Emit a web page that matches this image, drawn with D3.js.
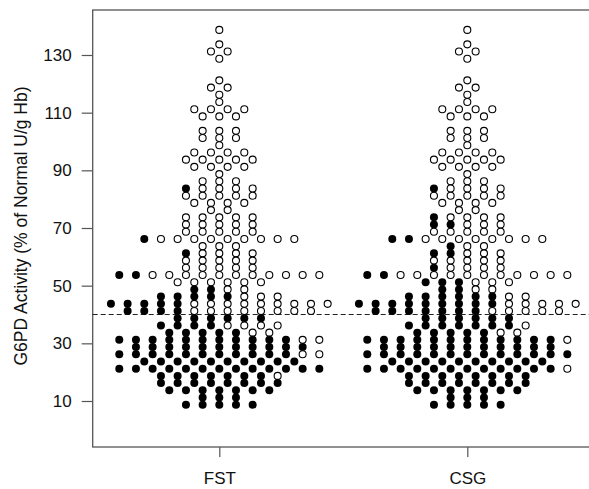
<!DOCTYPE html>
<html>
<head>
<meta charset="utf-8">
<script src="https://cdn.jsdelivr.net/npm/d3@7/dist/d3.min.js"></script>
<style>
  html, body { margin: 0; padding: 0; background: #fff; }
  svg { display: block; }
  text { font-family: "Liberation Sans", Arial, Helvetica, sans-serif; fill: #111; }
</style>
</head>
<body>
<svg id="chart" width="589" height="489"></svg>
<script>
// ---------------- data ----------------
const groups = ["FST", "CSG"];
const yTicks = [10, 30, 50, 70, 90, 110, 130];
const threshold = 40;

// G6PD activity level of each beeswarm row (% of normal), top to bottom
const rowValues = [138.7, 133.7, 131.2, 128.7, 121.2, 118.7, 116.2, 113.7, 111.2, 108.7,
                   103.7, 101.2, 98.7, 96.2, 93.7, 91.2, 88.7, 86.2, 83.7, 81.2,
                   78.7, 76.2, 73.7, 71.2, 68.7, 66.2, 63.7, 61.2, 58.7, 56.2,
                   53.7, 51.2, 48.7, 46.2, 43.7, 41.2, 38.7, 36.2, 33.7, 31.2,
                   28.7, 26.2, 23.7, 21.2, 18.7, 16.2, 13.7, 11.2, 8.7];
// number of subjects in each row
const rowCounts = [1, 1, 2, 1, 1, 2, 1, 1, 4, 3,
                   3, 3, 1, 4, 5, 4, 1, 3, 5, 5,
                   4, 2, 5, 5, 5, 10, 3, 5, 5, 5,
                   13, 6, 4, 8, 14, 12, 6, 8, 7, 13,
                   11, 13, 10, 13, 8, 8, 7, 3, 5];
// number of subjects classified deficient (filled) in each row, per test
const fstDeficient = [0, 0, 0, 0, 0, 0, 0, 0, 0, 0,
                      0, 0, 0, 0, 0, 0, 0, 0, 1, 0,
                      0, 0, 0, 0, 0, 1, 0, 1, 0, 0,
                      2, 0, 2, 5, 5, 4, 6, 4, 5, 11,
                      11, 11, 10, 13, 7, 8, 7, 3, 5];
const csgDeficient = [0, 0, 0, 0, 0, 0, 0, 0, 0, 0,
                      0, 0, 0, 0, 0, 0, 0, 0, 1, 0,
                      0, 0, 1, 2, 0, 2, 1, 2, 0, 1,
                      2, 3, 2, 6, 9, 7, 6, 7, 5, 12,
                      11, 13, 10, 12, 8, 8, 7, 3, 5];

// ---------------- layout ----------------
const W = 589, H = 489;
const frame = { left: 92.7, top: 10, right: 600, bottom: 447 };
const svg = d3.select("#chart");

const y = d3.scaleLinear().domain([10, 130]).range([401, 55]);
const x = d3.scalePoint().domain(groups).range([219.3, 467.3]);
const off = d3.scaleLinear().domain([0, 1]).range([0, 16.67]); // swarm slot width

const deficient = { FST: fstDeficient, CSG: csgDeficient };

// beeswarm "center" arrangement: points of a row are centred around the group axis
const points = [];
groups.forEach(g => {
  rowValues.forEach((v, r) => {
    const n = rowCounts[r];
    for (let i = 0; i < n; i++) {
      points.push({ group: g, value: v, slot: i - (n - 1) / 2, filled: i < deficient[g][r] });
    }
  });
});

// frame (box)
svg.append("rect")
  .attr("x", frame.left).attr("y", frame.top)
  .attr("width", frame.right - frame.left).attr("height", frame.bottom - frame.top)
  .attr("fill", "none").attr("stroke", "#555").attr("stroke-width", 1.3);

// y axis
const yAxis = svg.append("g")
  .attr("transform", `translate(${frame.left},0)`)
  .call(d3.axisLeft(y).tickValues(yTicks).tickSize(11).tickPadding(10).tickFormat(d3.format("d")));
yAxis.select(".domain").remove();
yAxis.selectAll(".tick line").attr("stroke", "#555").attr("stroke-width", 1.2);
yAxis.selectAll(".tick text").attr("font-size", "17px").attr("fill", "#111")
  .style("font-family", '"Liberation Sans", Arial, sans-serif');

// x axis
const xAxis = svg.append("g")
  .attr("transform", `translate(0,${frame.bottom})`)
  .call(d3.axisBottom(x).tickSize(10).tickPadding(15));
xAxis.select(".domain").remove();
xAxis.selectAll(".tick line").attr("stroke", "#555").attr("stroke-width", 1.2);
xAxis.selectAll(".tick text").attr("font-size", "17px").attr("fill", "#111")
  .style("font-family", '"Liberation Sans", Arial, sans-serif');

// y axis title
svg.append("text")
  .attr("transform", `translate(27,226) rotate(-90)`)
  .attr("text-anchor", "middle")
  .attr("font-size", "17.5px")
  .text("G6PD Activity (% of Normal U/g Hb)");

// threshold line
svg.append("line")
  .attr("x1", frame.left).attr("x2", W)
  .attr("y1", y(threshold)).attr("y2", y(threshold))
  .attr("stroke", "#222").attr("stroke-width", 1)
  .attr("stroke-dasharray", "5,3");

// points
svg.append("g").selectAll("circle")
  .data(points)
  .join("circle")
  .attr("cx", d => x(d.group) + off(d.slot))
  .attr("cy", d => y(d.value))
  .attr("r", d => d.filled ? 4 : 3.5)
  .attr("fill", d => d.filled ? "#000" : "#fff")
  .attr("stroke", d => d.filled ? "none" : "#000")
  .attr("stroke-width", 1.1);
</script>
</body>
</html>
